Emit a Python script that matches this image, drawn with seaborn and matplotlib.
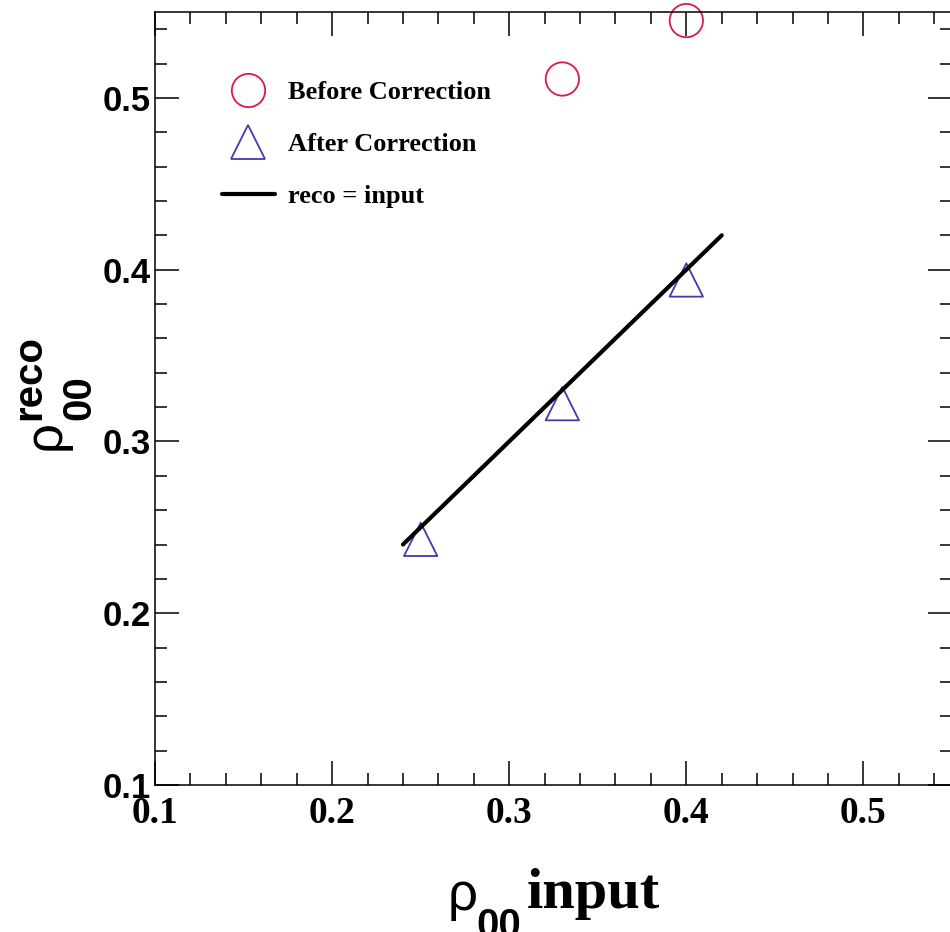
import matplotlib
matplotlib.use("Agg")
import matplotlib.pyplot as plt
from matplotlib.lines import Line2D
import seaborn as sns
import numpy as np

# ---- data ----
before_x = [0.33, 0.40]
before_y = [0.511, 0.545]
after_x = [0.25, 0.33, 0.40]
after_y = [0.243, 0.322, 0.394]
ref_x = [0.24, 0.42]
ref_y = [0.24, 0.42]
xticks = [0.1, 0.2, 0.3, 0.4, 0.5]
yticks = [0.1, 0.2, 0.3, 0.4, 0.5]
legend_labels = ["Before Correction", "After Correction", "reco = input"]

RED = "#d81b4a"
BLUE = "#4a34b0"
SERIF = "Liberation Serif"
SANS = "Liberation Sans"

sns.set_theme(style="white")
plt.rcParams["font.family"] = [SANS, "DejaVu Sans"]
plt.rcParams["text.color"] = "black"
plt.rcParams["xtick.color"] = "black"
plt.rcParams["ytick.color"] = "black"
plt.rcParams["axes.labelcolor"] = "black"

W, H = 950, 932
fig = plt.figure(figsize=(W / 100, H / 100), dpi=100)
L, R, B, T = 155, 952, 785, 12
ax = fig.add_axes([L / W, 1 - B / H, (R - L) / W, (B - T) / H])
ax.set_facecolor("white")

sns.lineplot(x=ref_x, y=ref_y, color="black", linewidth=3.0, ax=ax, legend=False)
sns.scatterplot(x=before_x, y=before_y, marker="o", s=24 ** 2, facecolor="none",
                edgecolor=RED, linewidth=1.3, clip_on=False, ax=ax, legend=False, zorder=1)
sns.scatterplot(x=after_x, y=after_y, marker="^", s=24 ** 2, facecolor="none",
                edgecolor=BLUE, linewidth=1.3, clip_on=False, ax=ax, legend=False, zorder=1)

ax.set_xlim(0.1, 0.55)
ax.set_ylim(0.1, 0.55)
ax.set_xticks(xticks)
ax.set_yticks(yticks)
ax.set_xticks(np.arange(0.12, 0.55, 0.02), minor=True)
ax.set_yticks(np.arange(0.12, 0.55, 0.02), minor=True)
ax.set_xticklabels([f"{v:.1f}" for v in xticks], fontfamily=SERIF, fontweight="bold",
                   fontsize=27, color="black")
ax.set_yticklabels([f"{v:.1f}" for v in yticks], fontfamily=SANS, fontweight="bold",
                   fontsize=25, color="black")
ax.tick_params(which="both", direction="in", top=True, right=True, bottom=True, left=True,
               color="black", width=1.1)
ax.tick_params(which="major", length=17)
ax.tick_params(which="minor", length=8.5)
ax.tick_params(axis="x", which="major", pad=8)
ax.tick_params(axis="y", which="major", pad=3)
for s in ax.spines.values():
    s.set_color("black")
    s.set_linewidth(1.1)
ax.set_xlabel("")
ax.set_ylabel("")

# legend
handles = [
    Line2D([], [], linestyle="none", marker="o", markersize=24, markerfacecolor="none",
           markeredgecolor=RED, markeredgewidth=1.3),
    Line2D([], [], linestyle="none", marker="^", markersize=24, markerfacecolor="none",
           markeredgecolor=BLUE, markeredgewidth=1.3),
    Line2D([], [], color="black", linewidth=3.0),
]
leg = ax.legend(handles, legend_labels, loc="upper left", frameon=False,
                bbox_to_anchor=(222 / W, 1 - 81 / H), bbox_transform=fig.transFigure,
                borderpad=0, borderaxespad=0, handlelength=2.0, handletextpad=0.5,
                labelspacing=1.07, prop={"family": SERIF, "weight": "bold", "size": 19})
for t in leg.get_texts():
    t.set_color("black")

# y label: rho^{reco}_{00}
def fx(px):
    return px / W
def fy(py):
    return 1 - py / H

fig.text(fx(60), fy(450), "ρ", rotation=90, rotation_mode="anchor", ha="left", va="baseline",
         fontsize=38, family=SANS, color="black")
fig.text(fx(90), fy(420), "00", rotation=90, rotation_mode="anchor", ha="left", va="baseline",
         fontsize=29, family=SANS, fontweight="bold", color="black")
fig.text(fx(40), fy(420), "reco", rotation=90, rotation_mode="anchor", ha="left", va="baseline",
         fontsize=29, family=SANS, fontweight="bold", color="black")

# x label: rho_{00} input
fig.text(fx(448), fy(910), "ρ", ha="left", va="baseline", fontsize=38, family=SANS, color="black")
fig.text(fx(476), fy(937), "00", ha="left", va="baseline", fontsize=29, family=SANS,
         fontweight="bold", color="black")
fig.text(fx(527), fy(908), "input", ha="left", va="baseline", fontsize=42, family=SERIF,
         fontweight="bold", color="black")

fig.savefig("out.png", dpi=100)
